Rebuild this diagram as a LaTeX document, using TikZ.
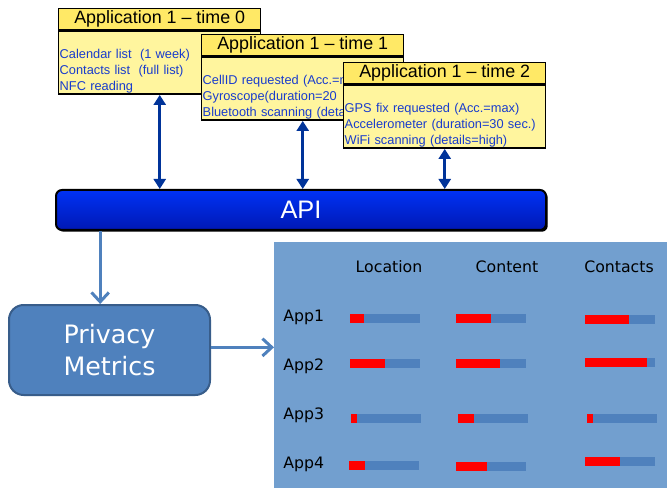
\documentclass[tikz,border=0pt]{standalone}
\usepackage{fontspec}
\setmainfont{Liberation Sans}
\newfontfamily\dejavu{DejaVu Sans}
\usetikzlibrary{arrows.meta,positioning,shadows}
\definecolor{headyellow}{RGB}{255,233,102}
\definecolor{bodyyellow}{RGB}{255,245,158}
\definecolor{textblue}{RGB}{25,60,205}
\definecolor{arrowblue}{RGB}{0,51,153}
\definecolor{apitop}{RGB}{0,50,245}
\definecolor{apibot}{RGB}{0,24,180}
\definecolor{steel}{RGB}{79,129,189}
\definecolor{pmedge}{RGB}{56,93,138}
\definecolor{sky}{RGB}{114,159,207}

\begin{document}
\begin{tikzpicture}[x=0.75pt,y=-0.75pt,>=Latex]
  \tikzstyle{head}=[draw,line width=1.1pt,fill=headyellow,minimum width=151.5pt,minimum height=15.75pt,inner sep=0pt,font=\fontsize{13.4}{15}\selectfont]
  \tikzstyle{body}=[draw,line width=1.1pt,fill=bodyyellow,text width=150pt,inner xsep=0.75pt,inner ysep=0pt,minimum height=47.25pt,align=left,text=textblue,
                    font=\fontsize{9.6}{12}\selectfont,execute at begin node={\rule{0pt}{19.5pt}}]
  \tikzstyle{link}=[line width=2.25pt,draw=arrowblue,{Triangle[length=7.5pt,width=9pt]}-{Triangle[length=7.5pt,width=9pt]}]
  \tikzstyle{flow}=[line width=2.25pt,draw=steel,-{Straight Barb[length=7pt,width=13pt]}]
  \tikzstyle{colhead}=[inner sep=0pt,font=\dejavu\fontsize{11.8}{14}\selectfont]
  \useasboundingbox (0,0) rectangle (667,488);
  % the three request boxes
  \node[head,anchor=north west] (head0) at (58,8) {Application 1 \textendash{} time 0};
  \node[body,below=0pt of head0] (body0) {Calendar list~ (1 week)\\Contacts list~ (full list)\\NFC reading};
  \node[head,anchor=north west] (head1) at (201,34) {Application 1 \textendash{} time 1};
  \node[body,below=0pt of head1] (body1) {CellID requested (Acc.=m\\Gyroscope(duration=20\\Bluetooth scanning (deta};
  \node[head,anchor=north west] (head2) at (343,62) {Application 1 \textendash{} time 2};
  \node[body,below=0pt of head2] (body2) {GPS fix requested (Acc.=max)\\Accelerometer (duration=30 sec.)\\WiFi scanning (details=high)};
  \node[draw=black,line width=1.5pt,rounded corners=4.5pt,minimum width=367.5pt,minimum height=30pt,
        top color=apitop,bottom color=apibot,text=white,font=\fontsize{19}{22}\selectfont,
        drop shadow={shadow xshift=1.3pt,shadow yshift=-1.3pt,opacity=1,fill=black}] (api) at (301,210) {API};
  \draw[link] (body0.south) -- (body0.south |- api.north);
  \draw[link] (body1.south) -- (body1.south |- api.north);
  \draw[link] (body2.south) -- (body2.south |- api.north);
  % metrics
  \node[draw=pmedge,line width=1.5pt,fill=steel,rounded corners=11pt,minimum width=150.75pt,minimum height=67.5pt,
        align=center,text=white,font=\dejavu\fontsize{19}{24}\selectfont] (pm) at (109.5,350) {Privacy\\Metrics};
  \coordinate (pmtop) at ([xshift=-7pt]pm.north);
  \draw[flow] (pmtop |- api.south) -- (pmtop);
  \node[fill=sky,minimum width=294.75pt,minimum height=184.5pt,inner sep=0pt,anchor=north west] (panel) at (274,242) {};
  \draw[flow] ([yshift=2pt]pm.east) -- ([yshift=2pt]pm.east -| panel.west);
  \node[colhead] (loc) at (389,267) {Location};
  \node[colhead] (cont) at (507,267) {Content};
  \node[colhead] (conts) at (619,267) {Contacts};
  \node[colhead,anchor=west] (app1) at (283,317) {App1};
  \node[colhead,anchor=west] (app2) at (283,366) {App2};
  \node[colhead,anchor=west] (app3) at (283,415) {App3};
  \node[colhead,anchor=west] (app4) at (283,464) {App4};
  % bars: left, middle, end of red part
  \foreach \bx/\by/\br in {350/318/364,456/318/491,585/319/629,
                           350/363/385,456/363/500,585/362/647,
                           351/418/357,458/418/474,587/418/593,
                           349/465/365,456/466/487,585/461/620}{
    \fill[steel] ({\bx},{\by-4.5}) rectangle ++(70,9);
    \fill[red] ({\bx},{\by-4.5}) rectangle ({\br},{\by+4.5});
  }
\end{tikzpicture}
\end{document}
